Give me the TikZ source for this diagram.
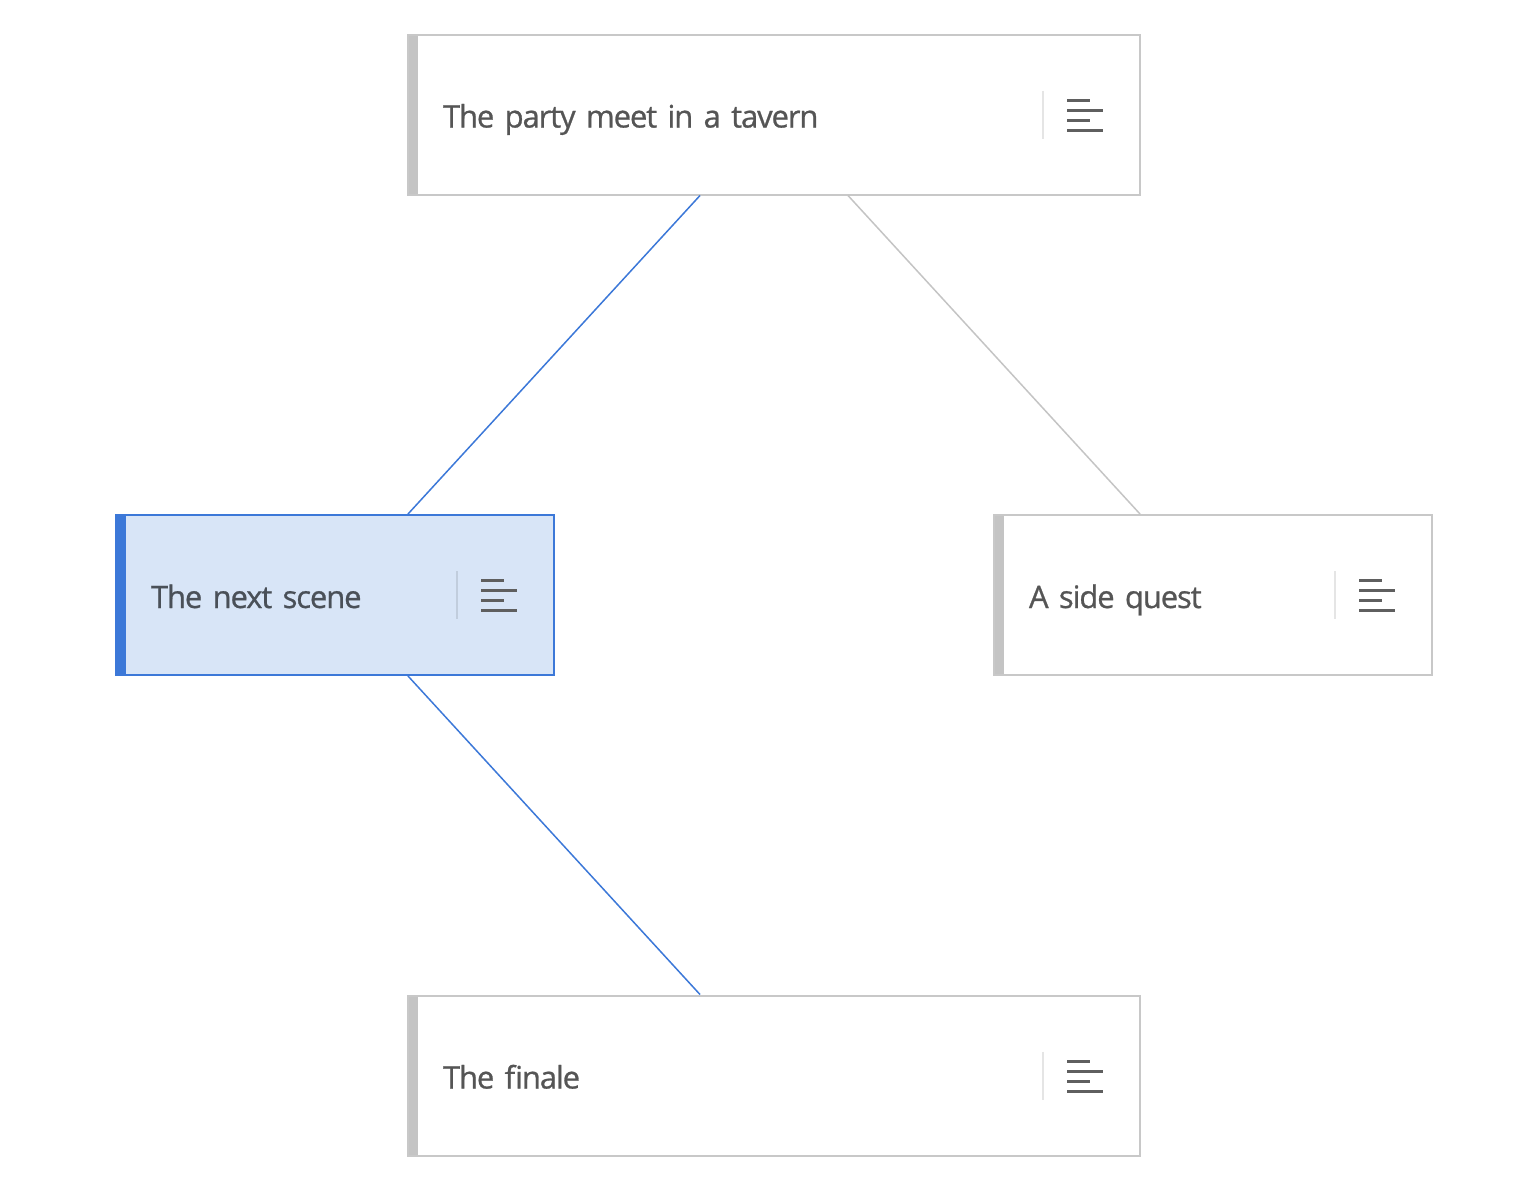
\documentclass[tikz,border=0pt]{standalone}
\usepackage{fontspec}
\setmainfont{Open Sans}[LetterSpace=-3.6,FakeBold=0.8]
\usetikzlibrary{positioning}
\definecolor{barGray}{HTML}{C4C4C4}
\definecolor{edgeGray}{HTML}{C8C8C8}
\definecolor{selBlue}{HTML}{3C78D8}
\definecolor{selFill}{HTML}{D8E5F7}
\definecolor{textGray}{HTML}{555555}
\definecolor{selText}{HTML}{4A5058}
\definecolor{iconGray}{HTML}{5F5F5F}
\tikzset{scene/.style={draw=edgeGray,line width=1pt,fill=white,rectangle,
    minimum height=80pt,inner xsep=17.5pt,align=left,text=textGray,
    text height=13pt,text depth=0pt,
    font=\fontsize{15.5}{18}\selectfont,
    path picture={
      \fill[#1] (path picture bounding box.north west) rectangle ([xshift=5pt]path picture bounding box.south west);
      \draw[black,opacity=.1,line width=1pt] ([xshift=-48.5pt,yshift=12pt]path picture bounding box.east) -- ([xshift=-48.5pt,yshift=-12pt]path picture bounding box.east);
      \foreach \y/\l in {7.25/25,2.25/18.5,-2.75/25,-7.75/18.5}
        \draw[iconGray,line width=1.5pt] ([xshift=-36.5pt,yshift=\y pt]path picture bounding box.east) -- ([xshift=-\l pt,yshift=\y pt]path picture bounding box.east);
    }},
  scene/.default=barGray}
\tikzstyle{wide}=[text width=331pt]
\tikzstyle{narrow}=[text width=184pt]
\tikzstyle{link}=[line width=.75pt,draw=barGray]

\begin{document}
\begin{tikzpicture}[x=0.5pt,y=-0.5pt]
    \useasboundingbox (0,0) rectangle (1516,1194);
    \node[scene, wide] (tavern) at (774,114.5) {The party meet in a tavern};
    \node[scene=selBlue, narrow, draw=selBlue, fill=selFill, text=selText] (next) at (335,595) {The next scene};
    \node[scene, narrow] (side) at (1213,595) {A side quest};
    \node[scene, wide] (finale) at (774,1075.5) {The finale};

    \draw[link, draw=selBlue] ([xshift=-37pt]tavern.south) -- ([xshift=36.5pt]next.north);
    \draw[link] ([xshift=37pt]tavern.south) -- ([xshift=-36.5pt]side.north);
    \draw[link, draw=selBlue] ([xshift=36.5pt]next.south) -- ([xshift=-37pt]finale.north);
\end{tikzpicture}
\end{document}
